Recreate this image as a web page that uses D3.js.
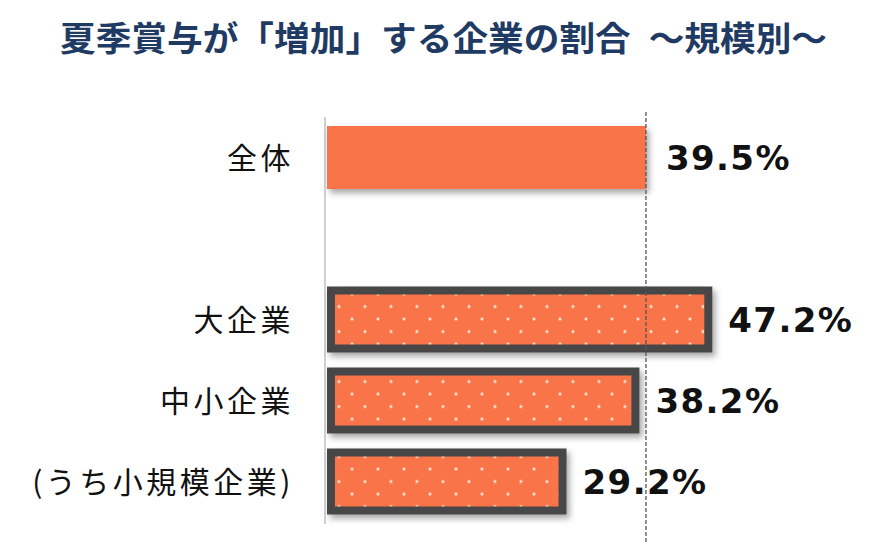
<!DOCTYPE html>
<html><head><meta charset="utf-8">
<script src="https://cdn.jsdelivr.net/npm/d3@7/dist/d3.min.js"></script>
<style>html,body{margin:0;padding:0;background:#fff;}</style>
</head><body>
<svg id="chart" width="870" height="554"></svg>
<script>
const titleText = "夏季賞与が「増加」する企業の割合\u2002～規模別～";
const categories = ["全体", "", "大企業", "中小企業", "(うち小規模企業)"];
const values = [39.5, null, 47.2, 38.2, 29.2];
const valueLabels = ["39.5%", "", "47.2%", "38.2%", "29.2%"];
const patterned = [false, false, true, true, true];
const referenceValue = 39.5;

const svg = d3.select("#chart");
const defs = svg.append("defs");
const f = defs.append("filter").attr("id","shadow").attr("x","-10%").attr("y","-20%").attr("width","130%").attr("height","160%");
f.append("feDropShadow").attr("dx",3).attr("dy",4).attr("stdDeviation",3).attr("flood-color","#000").attr("flood-opacity",0.35);
const pat = defs.append("pattern").attr("id","dots").attr("patternUnits","userSpaceOnUse")
  .attr("width",26).attr("height",25).attr("x",339).attr("y",306.5);
pat.append("rect").attr("width",26).attr("height",25).attr("fill","#F9744A");
[[0,0],[26,0],[0,25],[26,25],[13,12.5]].forEach(([cx,cy])=>
  pat.append("circle").attr("cx",cx).attr("cy",cy).attr("r",1.6).attr("fill","#FBE3CF"));

const x = d3.scaleLinear().domain([0, 10]).range([326, 407]);
const y = d3.scaleBand().domain(d3.range(categories.length)).range([117, 522]).paddingInner(0.22).paddingOuter(0.11);

// title
svg.append("text").attr("x", 60).attr("y", 51)
  .attr("font-family","'Noto Sans CJK JP', sans-serif").attr("font-weight","bold")
  .attr("font-size",34).attr("fill","#1F3A63")
  .attr("textLength", 767).attr("lengthAdjust","spacingAndGlyphs")
  .text(titleText);

// axis line
svg.append("line").attr("x1",325).attr("x2",325).attr("y1",117).attr("y2",524)
  .attr("stroke","#d0d0d0").attr("stroke-width",2);

const data = categories.map((c,i)=>({c, v: values[i], label: valueLabels[i], p: patterned[i], i})).filter(d=>d.v!=null);

const g = svg.append("g");
data.forEach(d=>{
  const cy = y(d.i) + y.bandwidth()/2;
  if (!d.p) {
    g.append("rect").attr("x", x(0)+1).attr("y", cy - 31.5).attr("width", x(d.v)-x(0)-1).attr("height", 63)
      .attr("fill","#F9744A").attr("filter","url(#shadow)");
  } else {
    g.append("rect").attr("x", x(0)+5).attr("y", cy - 29).attr("width", x(d.v)-x(0)-5).attr("height", 58)
      .attr("fill","url(#dots)").attr("stroke","#474747").attr("stroke-width",8).attr("filter","url(#shadow)");
  }
  svg.append("text").attr("x", x(d.v) + 20).attr("y", cy + 12)
    .attr("font-family","'DejaVu Sans', sans-serif").attr("font-weight","bold")
    .attr("font-size",34).attr("letter-spacing",1.4).attr("fill","#111").text(d.label);
  svg.append("text").attr("x", 294).attr("y", cy + 11).attr("text-anchor","end")
    .attr("font-family","'Noto Sans CJK JP', sans-serif").attr("font-size",30).attr("letter-spacing",3.5).attr("fill","#111").text(d.c);
});

// dashed reference line
svg.append("line").attr("x1", x(referenceValue)).attr("x2", x(referenceValue)).attr("y1",112).attr("y2",543)
  .attr("stroke","#555").attr("stroke-width",1.3).attr("stroke-dasharray","4,2");
</script>
</body></html>
